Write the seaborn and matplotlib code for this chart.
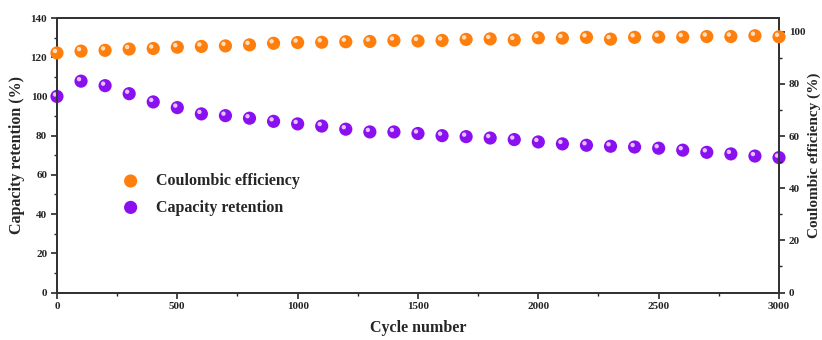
import matplotlib
matplotlib.use("Agg")
import matplotlib.pyplot as plt
import matplotlib.transforms as mtransforms
from matplotlib.ticker import MultipleLocator
import seaborn as sns
import pandas as pd

# data
cycles = [0, 100, 200, 300, 400, 500, 600, 700, 800, 900, 1000,
          1100, 1200, 1300, 1400, 1500, 1600, 1700, 1800, 1900, 2000,
          2100, 2200, 2300, 2400, 2500, 2600, 2700, 2800, 2900, 3000]
capacity_retention = [100.0, 107.8, 105.5, 101.4, 97.2, 94.3, 91.1, 90.2, 88.9, 87.3, 86.0,
                      84.9, 83.3, 81.9, 81.9, 81.1, 80.0, 79.5, 78.8, 78.0, 76.8,
                      75.8, 75.1, 74.6, 74.2, 73.6, 72.6, 71.5, 70.7, 69.6, 68.8]
coulombic_eff = [91.9, 92.6, 92.9, 93.4, 93.6, 94.1, 94.4, 94.6, 95.0, 95.6, 95.9,
                 96.0, 96.2, 96.3, 96.7, 96.5, 96.7, 97.1, 97.3, 96.9, 97.7,
                 97.6, 97.9, 97.2, 97.9, 98.0, 98.0, 98.2, 98.2, 98.5, 98.1]

df = pd.DataFrame({"cycle": cycles, "cap": capacity_retention, "ce": coulombic_eff})

sns.set_style("ticks")
plt.rcParams["font.family"] = ["Liberation Serif", "DejaVu Serif"]
plt.rcParams["font.weight"] = "bold"

orange = "#ff7f0e"
purple = "#8a10f0"

fig = plt.figure(figsize=(8.22, 3.40), dpi=100)
ax = fig.add_axes([0.0693, 0.1397, 0.8784, 0.8073])
ax2 = ax.twinx()

# little highlight on each ball, shifted up-left
hl = mtransforms.ScaledTranslation(-2.0 / 100, 2.0 / 100, fig.dpi_scale_trans)

sns.scatterplot(data=df, x="cycle", y="cap", ax=ax, color=purple, s=90,
                edgecolor="none", label="Capacity retention", zorder=3, clip_on=False)
sns.scatterplot(data=df, x="cycle", y="ce", ax=ax2, color=orange, s=90,
                edgecolor="none", label="Coulombic efficiency", zorder=3, clip_on=False)
for a, col in [(ax, "cap"), (ax2, "ce")]:
    a.scatter(df["cycle"], df[col], s=10, color="white", alpha=0.75,
              edgecolor="none", zorder=4, clip_on=False,
              transform=a.transData + hl)

ax.set_xlim(0, 3000)
ax.set_ylim(0, 140)
ax2.set_ylim(0, 105.3)

ax.xaxis.set_major_locator(MultipleLocator(500))
ax.xaxis.set_minor_locator(MultipleLocator(250))
ax.yaxis.set_major_locator(MultipleLocator(20))
ax.yaxis.set_minor_locator(MultipleLocator(10))
ax2.yaxis.set_major_locator(MultipleLocator(20))
ax2.yaxis.set_minor_locator(MultipleLocator(10))

for a in (ax, ax2):
    a.tick_params(which="major", length=4, width=1.2, labelsize=8, direction="out", pad=3)
    a.tick_params(which="minor", length=2.5, width=1.0, direction="out")
    for sp in a.spines.values():
        sp.set_linewidth(1.4)
        sp.set_color("#333333")
        sp.set_visible(True)
    for lbl in a.get_xticklabels() + a.get_yticklabels():
        lbl.set_fontweight("bold")

ax.set_xlabel("Cycle number", fontsize=11.5, fontweight="bold", labelpad=6)
ax.set_ylabel("Capacity retention (%)", fontsize=11.5, fontweight="bold", labelpad=4)
ax2.set_ylabel("Coulombic efficiency (%)", fontsize=11, fontweight="bold", labelpad=2)

ax2.get_legend().remove()
h1, l1 = ax.get_legend_handles_labels()
h2, l2 = ax2.get_legend_handles_labels()
leg = ax.legend(h2[:1] + h1[:1], l2[:1] + l1[:1], loc="upper left",
                bbox_to_anchor=(0.06, 0.487), frameon=False,
                prop={"size": 11.5, "weight": "bold"}, handletextpad=0.6,
                labelspacing=0.65, markerscale=1.0)

fig.savefig("out.png", dpi=100)
